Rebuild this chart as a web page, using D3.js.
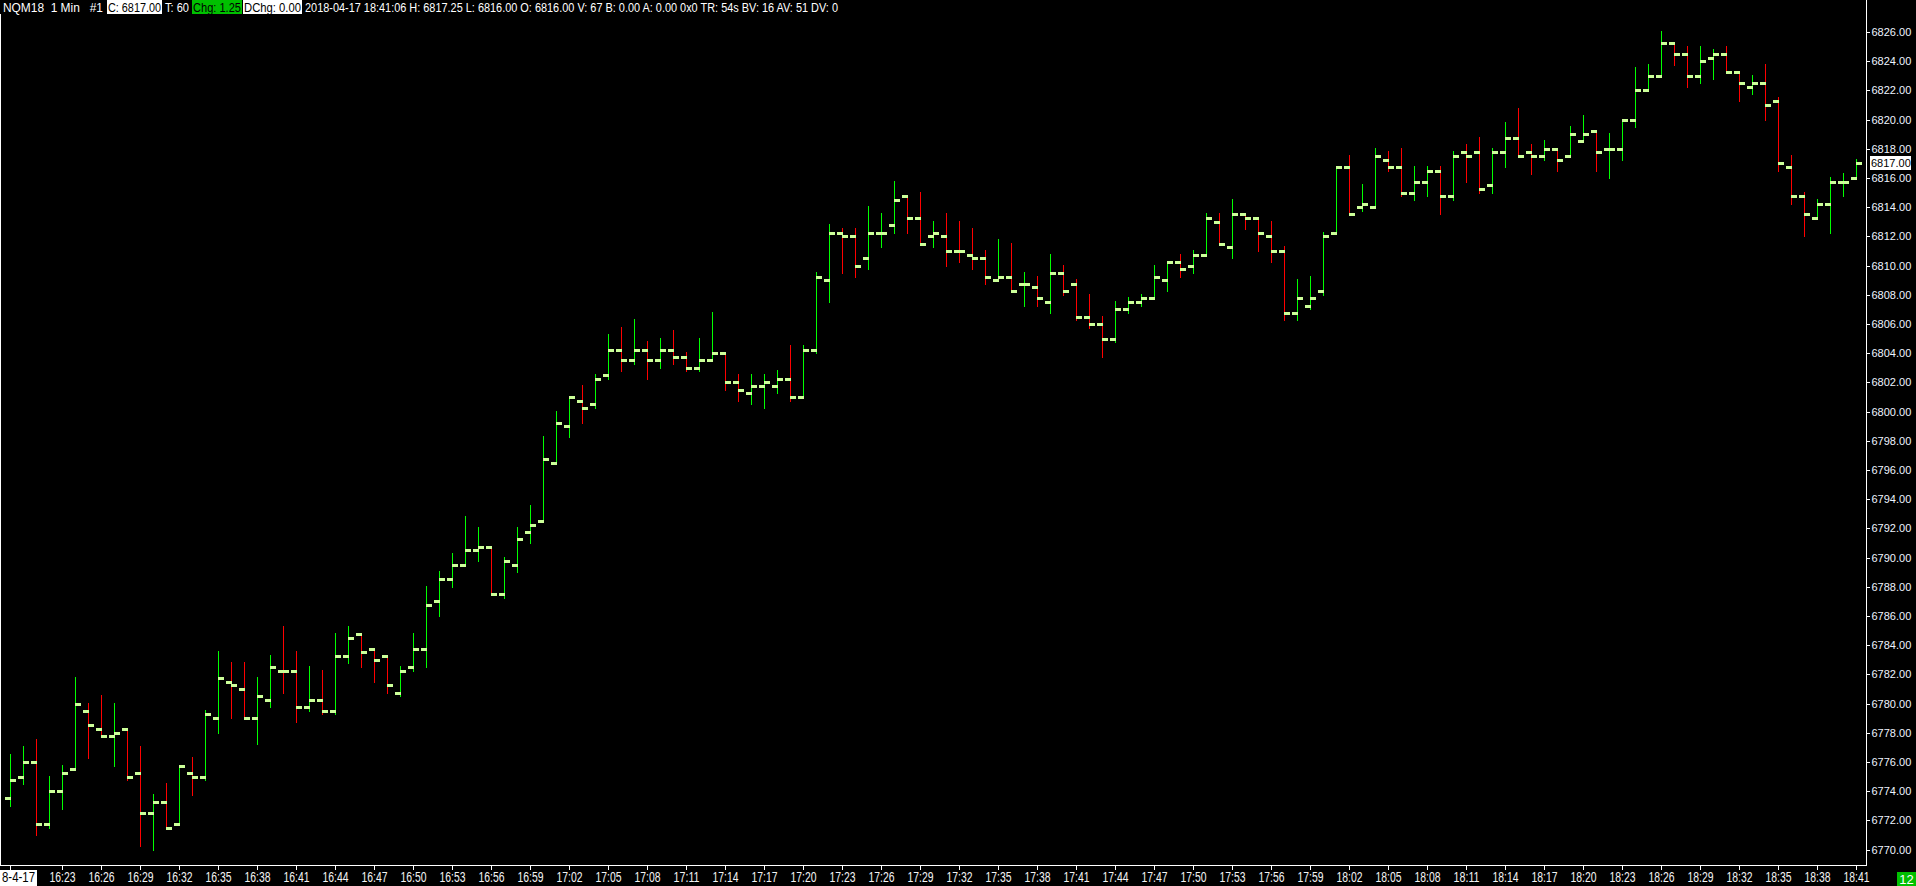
<!DOCTYPE html>
<html>
<head>
<meta charset="utf-8">
<script src="https://cdn.jsdelivr.net/npm/d3@7"></script>
<style>
  html, body { margin: 0; padding: 0; background: #000; overflow: hidden; }
  svg { display: block; }
  text { font-family: 'Liberation Sans', Arial, sans-serif; }
</style>
</head>
<body>
<svg id="chart"></svg>
<script>
// NQM18 1 min OHLC bars, 16:19 - 18:41
const opens = [
  6773.5, 6775, 6776, 6771.75, 6774, 6775.5, 6779.5, 6778.25, 6777.75, 6778.25,
  6775.25, 6772.5, 6773.25, 6771.75, 6775.25, 6775, 6779, 6781.5, 6781, 6779,
  6780.25, 6782.25, 6782.25, 6779.75, 6780.25, 6779.5, 6783.25, 6784.75, 6783.75, 6783.25,
  6780.75, 6782.5, 6783.75, 6787, 6788.5, 6789.5, 6790.5, 6790.75, 6787.5, 6789.5,
  6791.75, 6792.5, 6796.5, 6799, 6800.75, 6800.5, 6802.5, 6804.25, 6803.5, 6804.25,
  6803.5, 6804.25, 6803.75, 6803, 6803.5, 6804, 6802, 6801.25, 6801.75, 6801.75,
  6802.25, 6801, 6804.25, 6809, 6812.25, 6812, 6810.5, 6812.25, 6812.75, 6814.75,
  6813.25, 6812, 6812, 6811, 6810.75, 6810.5, 6809, 6809.25, 6808.75, 6808.5,
  6807.5, 6809.5, 6808.75, 6806.5, 6806, 6805, 6807, 6807.5, 6807.75, 6809,
  6810.25, 6810, 6810.75, 6813, 6811.25, 6813.5, 6813.25, 6812, 6811, 6806.75,
  6807.25, 6808.25, 6812.25, 6816.75, 6814, 6814, 6817.25, 6816.75, 6815, 6815.75,
  6816.5, 6814.75, 6817.75, 6817.75, 6815.5, 6817.75, 6818.75, 6817.75, 6817.5, 6818,
  6817.5, 6818.5, 6819.25, 6818, 6818, 6820, 6822, 6823, 6825.25, 6824.5,
  6823, 6824.25, 6824.5, 6823.25, 6822.25, 6822.5, 6821.25, 6816.75, 6814.75, 6813.25,
  6814.25, 6815.75, 6816
];
const highs = [
  6776.5, 6777, 6777.5, 6775, 6775.75, 6781.75, 6780, 6780.5, 6780, 6778.25,
  6777, 6773.75, 6774.5, 6775.75, 6776.25, 6779.5, 6783.5, 6782.75, 6782.75, 6781.75,
  6783.25, 6785.25, 6783.5, 6782.5, 6782.25, 6784.75, 6785.25, 6784.75, 6783.75, 6783.25,
  6782.5, 6784.75, 6788, 6789, 6790.25, 6792.75, 6792, 6790.75, 6790, 6792,
  6793.5, 6798.25, 6800, 6801, 6801.75, 6802.5, 6805.25, 6805.75, 6806.25, 6804.75,
  6805, 6805.5, 6804, 6805, 6806.75, 6804, 6802.5, 6802.5, 6802.5, 6802.75,
  6804.5, 6804.5, 6809.5, 6812.75, 6812.5, 6812.5, 6814, 6813.5, 6815.75, 6814.75,
  6815, 6813, 6813.5, 6813, 6812.5, 6811, 6811.75, 6811.5, 6809.5, 6809.25,
  6810.75, 6810, 6809, 6808, 6806.5, 6807.5, 6807.75, 6808, 6810, 6810.25,
  6810.75, 6811, 6813.5, 6813.5, 6814.5, 6813.5, 6813.25, 6813, 6811.25, 6809,
  6809.25, 6812.25, 6816.75, 6817.5, 6815.5, 6818, 6817.75, 6818, 6816.75, 6816.75,
  6816.75, 6817.75, 6818.25, 6818.75, 6818, 6819.75, 6820.75, 6818.25, 6818.5, 6818,
  6819.5, 6820.25, 6819.25, 6819, 6820, 6823.5, 6823.75, 6826, 6825.25, 6825,
  6825, 6824.75, 6825, 6823.25, 6823, 6823.75, 6821.5, 6817.5, 6815, 6814.5,
  6816, 6816.25, 6817.25
];
const lows = [
  6773, 6774.5, 6771, 6771.5, 6772.75, 6775.5, 6776.25, 6777.75, 6775.75, 6774.75,
  6770.25, 6770, 6771.5, 6771.75, 6773.75, 6774.75, 6778, 6779, 6779, 6777.25,
  6779.75, 6780.75, 6778.75, 6779.5, 6779.25, 6779.25, 6782.75, 6782.5, 6781.5, 6780.75,
  6780.5, 6782.25, 6782.5, 6786, 6788, 6789.5, 6789.75, 6787.5, 6787.25, 6789,
  6791, 6792.5, 6796.5, 6798.25, 6799.25, 6800.25, 6802.25, 6802.75, 6803.25, 6802.25,
  6803, 6803.25, 6802.75, 6802.75, 6803.5, 6801.5, 6800.75, 6800.5, 6800.25, 6801.25,
  6800.75, 6801, 6804, 6807.5, 6809.5, 6809.25, 6809.75, 6811.25, 6812.25, 6812.25,
  6811.5, 6811.25, 6810, 6810.25, 6809.75, 6808.75, 6809, 6808.25, 6807.25, 6807.25,
  6806.75, 6808, 6806.25, 6805.75, 6803.75, 6804.75, 6806.75, 6807.25, 6807.75, 6808.25,
  6809.25, 6809.5, 6810.75, 6811.5, 6810.5, 6812.5, 6811, 6810.25, 6806.25, 6806.25,
  6807, 6808, 6812.25, 6813.5, 6813.75, 6814, 6816.5, 6814.75, 6814.5, 6814.75,
  6813.5, 6814.5, 6815.75, 6815, 6815, 6816.75, 6817.5, 6816.25, 6817.25, 6816.5,
  6817.5, 6818.5, 6816.5, 6816, 6817.25, 6819.5, 6822, 6823, 6823.75, 6822.25,
  6822.5, 6822.75, 6823.25, 6821.25, 6821.75, 6820, 6816.5, 6814.25, 6812, 6813.25,
  6812.25, 6814.75, 6816
];
const closes = [
  6774.75, 6776, 6771.75, 6774, 6775.25, 6780, 6778.5, 6777.75, 6778, 6775,
  6772.5, 6773.25, 6771.5, 6775.75, 6775, 6779.25, 6781.75, 6781.25, 6779, 6780.5,
  6782.5, 6782.25, 6779.75, 6780.25, 6779.5, 6783.25, 6784.5, 6783.5, 6783, 6781.25,
  6782.25, 6783.75, 6786.75, 6788.5, 6789.5, 6790.5, 6790.75, 6787.5, 6789.75, 6791.25,
  6792.25, 6796.75, 6799.25, 6801, 6800.25, 6802.25, 6804.25, 6803.5, 6804.25, 6803.5,
  6804.25, 6803.75, 6803, 6803.5, 6804, 6802, 6801.5, 6801.75, 6802, 6802.25,
  6801, 6804.25, 6809.25, 6812.25, 6812, 6810, 6812.25, 6812.25, 6814.5, 6813.25,
  6811.5, 6812.25, 6811, 6811, 6810.5, 6809.25, 6809.25, 6808.25, 6808.75, 6807.75,
  6809.5, 6808.25, 6806.5, 6806, 6805, 6807, 6807.5, 6807.75, 6809.25, 6810.25,
  6809.75, 6810.75, 6813.25, 6811.5, 6813.5, 6813.25, 6812.25, 6811, 6806.75, 6807.75,
  6807.75, 6812, 6816.75, 6813.5, 6814.25, 6817.5, 6816.75, 6815, 6815.75, 6816.5,
  6814.75, 6817.5, 6817.5, 6815.25, 6817.75, 6818.75, 6817.5, 6817.5, 6818, 6817.25,
  6819, 6819, 6817.75, 6818, 6820, 6822, 6823, 6825.25, 6824.5, 6823,
  6824, 6824.5, 6823.25, 6822.5, 6822.5, 6821, 6817, 6814.75, 6813.5, 6814.25,
  6815.75, 6815.75, 6817
];

const startTime = '16:19';
const dateLabel = '8-4-17';
const timeLabels = [
  '16:23', '16:26', '16:29', '16:32', '16:35', '16:38', '16:41', '16:44', '16:47', '16:50',
  '16:53', '16:56', '16:59', '17:02', '17:05', '17:08', '17:11', '17:14', '17:17', '17:20',
  '17:23', '17:26', '17:29', '17:32', '17:35', '17:38', '17:41', '17:44', '17:47', '17:50',
  '17:53', '17:56', '17:59', '18:02', '18:05', '18:08', '18:11', '18:14', '18:17', '18:20',
  '18:23', '18:26', '18:29', '18:32', '18:35', '18:38', '18:41'
];
const priceTicks = [
  6770, 6772, 6774, 6776, 6778, 6780, 6782, 6784, 6786, 6788, 6790, 6792, 6794, 6796, 6798,
  6800, 6802, 6804, 6806, 6808, 6810, 6812, 6814, 6816, 6818, 6820, 6822, 6824, 6826
];
const lastPrice = 6817.00;
const barCountLabel = '12';
const headerParts = [
  { text: 'NQM18  1 Min   #1', box: null },
  { text: 'C: 6817.00', box: '#fff' },
  { text: 'T: 60', box: null },
  { text: 'Chg: 1.25', box: '#00c000' },
  { text: 'DChg: 0.00', box: '#fff' },
  { text: '2018-04-17 18:41:06 H: 6817.25 L: 6816.00 O: 6816.00 V: 67 B: 0.00 A: 0.00 0x0 TR: 54s BV: 16 AV: 51 DV: 0', box: null }
];

const width = 1916;
const height = 886;
const plotRight = 1866;
const plotBottom = 865;

const svg = d3.select('#chart')
  .attr('width', width)
  .attr('height', height)
  .style('background', '#000');

const parseTime = d3.timeParse('%H:%M');
const fmtTime = d3.timeFormat('%H:%M');
const t0 = parseTime(startTime);
const times = d3.timeMinutes(t0, d3.timeMinute.offset(t0, opens.length)).map(fmtTime);

const bars = times.map((t, i) => ({
  t, o: opens[i], h: highs[i], l: lows[i], c: closes[i]
}));

// Sierra style colouring: compare close to open, then to previous close, else keep previous colour
let prevUp = true;
bars.forEach((d, i) => {
  let up;
  if (d.c > d.o) up = true;
  else if (d.c < d.o) up = false;
  else if (i > 0 && d.c > bars[i - 1].c) up = true;
  else if (i > 0 && d.c < bars[i - 1].c) up = false;
  else up = prevUp;
  d.up = up;
  prevUp = up;
});

const xScale = d3.scaleBand()
  .domain(times)
  .range([4, 4 + times.length * 13])
  .padding(0);

const yScale = d3.scaleLinear()
  .domain([6770, 6826])
  .range([849.5, 32]);

const cx = d => Math.floor(xScale(d.t) + xScale.bandwidth() / 2);

// high-low lines
svg.append('g')
  .attr('shape-rendering', 'crispEdges')
  .selectAll('rect')
  .data(bars)
  .enter().append('rect')
  .attr('x', d => cx(d))
  .attr('width', 1)
  .attr('y', d => Math.round(yScale(d.h)) - 1)
  .attr('height', d => Math.max(1, Math.round(yScale(d.l)) - Math.round(yScale(d.h)) + 2))
  .attr('fill', d => (d.up ? '#00ff00' : '#ff0000'));

// open (left) and close (right) ticks
const ticks = svg.append('g').attr('shape-rendering', 'crispEdges');
ticks.selectAll('.open')
  .data(bars)
  .enter().append('rect')
  .attr('class', 'open')
  .attr('x', d => cx(d) - 5)
  .attr('width', 6)
  .attr('y', d => Math.round(yScale(d.o)) - 1)
  .attr('height', 3)
  .attr('fill', '#ccff99');
ticks.selectAll('.close')
  .data(bars)
  .enter().append('rect')
  .attr('class', 'close')
  .attr('x', d => cx(d))
  .attr('width', 6)
  .attr('y', d => Math.round(yScale(d.c)) - 1)
  .attr('height', 3)
  .attr('fill', '#ccff99');

// frame
svg.append('path')
  .attr('d', `M0.5,14V${plotBottom + 0.5}H${plotRight + 0.5}V0`)
  .attr('fill', 'none')
  .attr('stroke', '#fff')
  .attr('stroke-width', 1)
  .attr('shape-rendering', 'crispEdges');

// price axis
const yAxis = d3.axisRight(yScale)
  .tickValues(priceTicks)
  .tickSize(3)
  .tickPadding(2)
  .tickFormat(d3.format('.2f'));

const yAxisG = svg.append('g')
  .attr('transform', `translate(${plotRight + 0.5},0)`)
  .call(yAxis);
yAxisG.select('.domain').remove();
yAxisG.selectAll('line').attr('stroke', '#fff').attr('shape-rendering', 'crispEdges');
yAxisG.selectAll('text')
  .attr('fill', '#eef4ff')
  .attr('font-size', 11)
  .attr('font-family', "'Liberation Sans', Arial, sans-serif");

// last price marker
const lastY = yScale(lastPrice);
svg.append('rect')
  .attr('x', plotRight + 4)
  .attr('y', Math.round(lastY) - 7)
  .attr('width', 41)
  .attr('height', 14)
  .attr('fill', '#fff');
svg.append('text')
  .attr('x', plotRight + 5)
  .attr('y', lastY)
  .attr('dy', '0.35em')
  .attr('font-size', 11)
  .attr('fill', '#000')
  .text(d3.format('.2f')(lastPrice));

// time axis
const xAxis = d3.axisBottom(xScale)
  .tickValues([times[0]].concat(timeLabels))
  .tickSize(4)
  .tickPadding(3)
  .tickFormat(d => (d === times[0] ? '' : d));

const xAxisG = svg.append('g')
  .attr('transform', `translate(0,${plotBottom + 0.5})`)
  .call(xAxis);
xAxisG.select('.domain').remove();
xAxisG.selectAll('line').attr('stroke', '#fff').attr('shape-rendering', 'crispEdges');
xAxisG.selectAll('text')
  .attr('fill', '#f4f4f4')
  .attr('font-size', 14)
  .attr('font-family', "'Liberation Sans', Arial, sans-serif")
  .attr('textLength', 26)
  .attr('lengthAdjust', 'spacingAndGlyphs');

// date label box
svg.append('rect')
  .attr('x', 0).attr('y', 870).attr('width', 37).attr('height', 16)
  .attr('fill', '#fff');
svg.append('text')
  .attr('x', 2).attr('y', 882)
  .attr('font-size', 14)
  .attr('fill', '#000')
  .attr('textLength', 33)
  .attr('lengthAdjust', 'spacingAndGlyphs')
  .text(dateLabel);

// bar count box
svg.append('rect')
  .attr('x', 1897).attr('y', 872).attr('width', 19).attr('height', 14)
  .attr('fill', '#00c000');
svg.append('text')
  .attr('x', 1906.5).attr('y', 883.5)
  .attr('text-anchor', 'middle')
  .attr('font-size', 13)
  .attr('fill', '#fff')
  .text(barCountLabel);

// header line
const headerLayout = [
  { x: 3, w: 100 },
  { x: 108, w: 53 },
  { x: 165, w: 24 },
  { x: 193, w: 48 },
  { x: 244, w: 57 },
  { x: 305, w: 533 }
];
const header = svg.append('g');
headerParts.forEach((p, i) => {
  const L = headerLayout[i];
  if (p.box) {
    header.append('rect')
      .attr('x', L.x - 1).attr('y', 0)
      .attr('width', L.w + 2).attr('height', 14)
      .attr('fill', p.box);
  }
  header.append('text')
    .attr('x', L.x).attr('y', 11.5)
    .attr('font-size', 12)
    .attr('fill', p.box ? '#000' : '#fff')
    .attr('textLength', L.w)
    .attr('lengthAdjust', 'spacingAndGlyphs')
    .attr('xml:space', 'preserve')
    .style('white-space', 'pre')
    .text(p.text);
});
</script>
</body>
</html>
